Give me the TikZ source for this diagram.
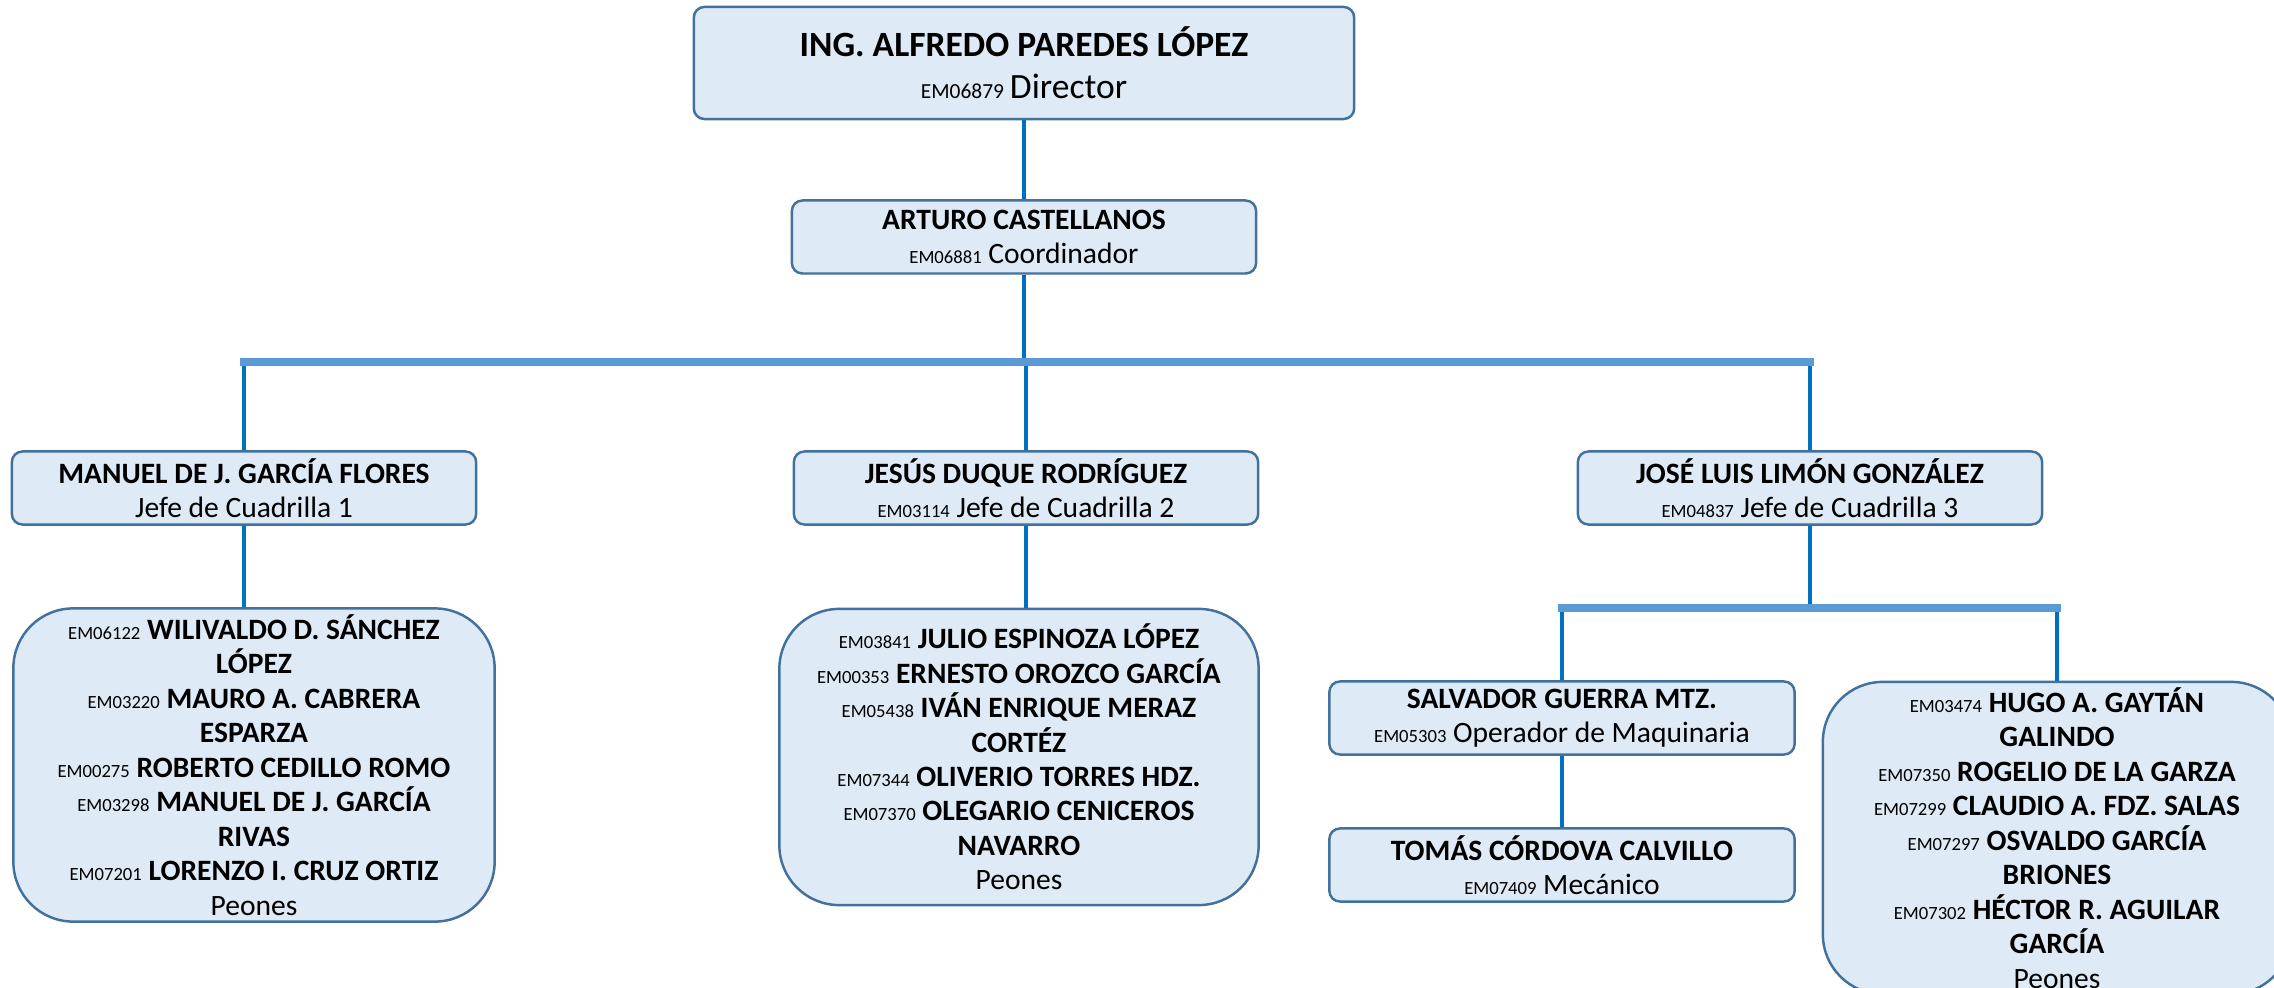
\documentclass[tikz,border=0pt]{standalone}
\usepackage{fontspec}
\setmainfont{Carlito}
\usetikzlibrary{positioning}

\definecolor{boxfill}{HTML}{DEEAF6}
\definecolor{boxline}{HTML}{41719C}
\definecolor{linkblue}{HTML}{0070C0}
\definecolor{barblue}{HTML}{5B9BD5}

\newcommand{\clave}[1]{{\fontsize{5.3pt}{9.8pt}\selectfont #1}}

\begin{document}
\begin{tikzpicture}[
  x=0.01cm, y=-0.01cm,
  box/.style={rectangle, draw=boxline, fill=boxfill, line width=0.7pt,
              rounded corners=3pt, minimum width=4.64cm, minimum height=0.73cm,
              inner sep=0pt, align=center,
              font=\fontsize{8.4pt}{9.6pt}\selectfont},
  crew/.style={box, rounded corners=17pt, font=\fontsize{8.4pt}{9.8pt}\selectfont},
  link/.style={draw=linkblue, line width=1.1pt},
  bar/.style={draw=barblue, line width=2pt, line cap=rect}
]
  \clip (0,0) rectangle (2274,988);

  % direction
  \node[box, minimum width=6.6cm, minimum height=1.12cm,
        font=\fontsize{10.1pt}{12pt}\selectfont] (dir) at (1024,63)
        {\textbf{ING. ALFREDO PAREDES LÓPEZ}\\{\fontsize{6.1pt}{12pt}\selectfont EM06879}\,Director};
  \node[box] (coord) at (1024,237) {\textbf{ARTURO CASTELLANOS}\\\clave{EM06881} Coordinador};

  % jefes de cuadrilla
  \node[box] (jefe1) at (244,488) {\textbf{MANUEL DE J. GARCÍA FLORES}\\Jefe de Cuadrilla 1};
  \node[box] (jefe2) at (1026,488) {\textbf{JESÚS DUQUE RODRÍGUEZ}\\\clave{EM03114} Jefe de Cuadrilla 2};
  \node[box] (jefe3) at (1810,488) {\textbf{JOSÉ LUIS LIMÓN GONZÁLEZ}\\\clave{EM04837} Jefe de Cuadrilla 3};

  % peones
  \node[crew, minimum width=4.81cm, minimum height=3.13cm] (peon1) at (254,765)
    {\clave{EM06122} \textbf{WILIVALDO D. SÁNCHEZ}\\\textbf{LÓPEZ}\\
     \clave{EM03220} \textbf{MAURO A. CABRERA}\\\textbf{ESPARZA}\\
     \clave{EM00275} \textbf{ROBERTO CEDILLO ROMO}\\
     \clave{EM03298} \textbf{MANUEL DE J. GARCÍA}\\\textbf{RIVAS}\\
     \clave{EM07201} \textbf{LORENZO I. CRUZ ORTIZ}\\Peones};
  \node[crew, minimum width=4.79cm, minimum height=2.96cm] (peon2) at (1019,757)
    {\clave{EM03841} \textbf{JULIO ESPINOZA LÓPEZ}\\
     \clave{EM00353} \textbf{ERNESTO OROZCO GARCÍA}\\
     \clave{EM05438} \textbf{IVÁN ENRIQUE MERAZ}\\\textbf{CORTÉZ}\\
     \clave{EM07344} \textbf{OLIVERIO TORRES HDZ.}\\
     \clave{EM07370} \textbf{OLEGARIO CENICEROS}\\\textbf{NAVARRO}\\Peones};

  % cuadrilla 3
  \node[box, minimum width=4.65cm] (salv) at (1562,718)
    {\textbf{SALVADOR GUERRA MTZ.}\\\clave{EM05303} Operador de Maquinaria};
  \node[box, minimum width=4.65cm] (tomas) at (1562,865)
    {\textbf{TOMÁS CÓRDOVA CALVILLO}\\\clave{EM07409} Mecánico};
  \node[crew, minimum width=4.68cm, minimum height=3.12cm] (peon3) at (2057,838)
    {\clave{EM03474} \textbf{HUGO A. GAYTÁN}\\\textbf{GALINDO}\\
     \clave{EM07350} \textbf{ROGELIO DE LA GARZA}\\
     \clave{EM07299} \textbf{CLAUDIO A. FDZ. SALAS}\\
     \clave{EM07297} \textbf{OSVALDO GARCÍA}\\\textbf{BRIONES}\\
     \clave{EM07302} \textbf{HÉCTOR R. AGUILAR}\\\textbf{GARCÍA}\\Peones};

  % connectors
  \coordinate (rama) at (1024,362);
  \coordinate (rama3) at (1810,608);
  \draw[link] (dir.south) -- (coord.north);
  \draw[link] (coord.south) -- (rama);
  \draw[link] (jefe1.north) -- (jefe1.north |- rama);
  \draw[link] (jefe2.north) -- (jefe2.north |- rama);
  \draw[link] (jefe3.north) -- (jefe3.north |- rama);
  \draw[bar] (jefe1.north |- rama) -- (jefe3.north |- rama);
  \draw[link] (jefe1.south) -- (jefe1.south |- peon1.north);
  \draw[link] (jefe2.south) -- (jefe2.south |- peon2.north);
  \draw[link] (jefe3.south) -- (rama3);
  \draw[link] (salv.north) -- (salv.north |- rama3);
  \draw[link] (peon3.north) -- (peon3.north |- rama3);
  \draw[bar] (salv.north |- rama3) -- (peon3.north |- rama3);
  \draw[link] (salv.south) -- (tomas.north);
\end{tikzpicture}
\end{document}
